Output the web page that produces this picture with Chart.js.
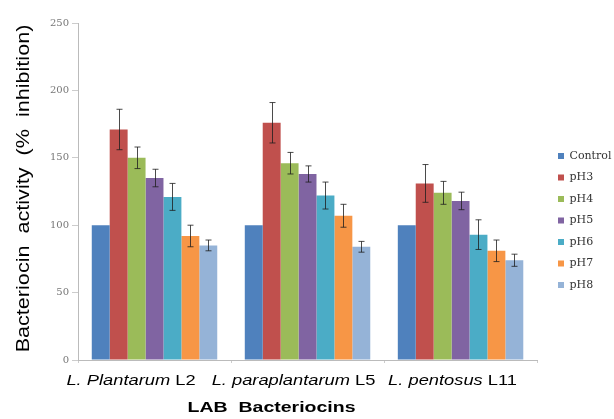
<!DOCTYPE html>
<html><head><meta charset="utf-8">
<script src="https://cdn.jsdelivr.net/npm/chart.js@4"></script>
<style>html,body{margin:0;padding:0;background:#fff}#wrap{width:614px;height:419px}</style>
</head><body><div id="wrap"><canvas id="c"></canvas></div>
<script>
const species = ['L. Plantarum', 'L. paraplantarum', 'L. pentosus'];
const strains = ['L2', 'L5', 'L11'];
const seriesNames = ['Control', 'pH3', 'pH4', 'pH5', 'pH6', 'pH7', 'pH8'];
const control = [100, 100, 100];
const pH3 = [171, 176, 131];
const pH4 = [150, 146, 124];
const pH5 = [135, 138, 118];
const pH6 = [121, 122, 93];
const pH7 = [92, 107, 81];
const pH8 = [85, 84, 74];
const errControl = [0, 0, 0];
const errPH3 = [15, 15, 14];
const errPH4 = [8, 8, 8.5];
const errPH5 = [6.5, 6, 6.5];
const errPH6 = [10, 10, 11];
const errPH7 = [8, 8.5, 8];
const errPH8 = [4, 4, 4.5];
const yTicks = [0, 50, 100, 150, 200, 250];
const yTitle = 'Bacteriocin  activity  (%  inhibition)';
const xTitle = 'LAB  Bacteriocins';

const values = [control, pH3, pH4, pH5, pH6, pH7, pH8];
const errors = [errControl, errPH3, errPH4, errPH5, errPH6, errPH7, errPH8];
const colors = ['#4F81BD', '#C0504D', '#9BBB59', '#8064A2', '#4BACC6', '#F79646', '#95B3D7'];

const errorBars = {
  id: 'errorBars',
  afterDatasetsDraw(chart) {
    const ctx = chart.ctx, y = chart.scales.y;
    ctx.save();
    ctx.strokeStyle = 'rgba(30,30,30,0.8)';
    ctx.lineWidth = 1;
    chart.data.datasets.forEach((ds, i) => {
      const meta = chart.getDatasetMeta(i);
      meta.data.forEach((bar, j) => {
        const e = errors[i][j];
        if (!e) return;
        const v = ds.data[j];
        const yt = y.getPixelForValue(v + e), yb = y.getPixelForValue(v - e);
        const x = Math.round(bar.x) + 0.5;
        ctx.beginPath();
        ctx.moveTo(x, yt); ctx.lineTo(x, yb);
        ctx.moveTo(x - 3, yt); ctx.lineTo(x + 3, yt);
        ctx.moveTo(x - 3, yb); ctx.lineTo(x + 3, yb);
        ctx.stroke();
      });
    });
    ctx.restore();
  }
};

const labelOffsets = [-23.5, -14, -8];
const SX = 1.22;
const axisText = {
  id: 'axisText',
  afterDraw(chart) {
    const ctx = chart.ctx, xs = chart.scales.x, area = chart.chartArea;
    ctx.save();
    ctx.fillStyle = '#000';
    ctx.textBaseline = 'middle';
    const it = 'italic 15px "Liberation Sans", Arial, sans-serif';
    const rg = '15px "Liberation Sans", Arial, sans-serif';
    species.forEach((sp, i) => {
      ctx.font = it; const w1 = ctx.measureText(sp + ' ').width;
      ctx.font = rg; const w2 = ctx.measureText(strains[i]).width;
      const cx = xs.getPixelForValue(i) + labelOffsets[i];
      ctx.save();
      ctx.translate(cx - (w1 + w2) * SX / 2, area.bottom + 21);
      ctx.scale(SX, 1);
      ctx.textAlign = 'left';
      ctx.font = it; ctx.fillText(sp + ' ', 0, 0);
      ctx.font = rg; ctx.fillText(strains[i], w1, 0);
      ctx.restore();
    });
    // x title
    ctx.save();
    ctx.font = 'bold 15px "Liberation Sans", Arial, sans-serif';
    ctx.textAlign = 'center';
    ctx.translate((area.left + area.right) / 2 - 36, area.bottom + 48);
    ctx.scale(1.3, 1);
    ctx.fillText(xTitle, 0, 0);
    ctx.restore();
    // y title
    ctx.save();
    ctx.font = '18px "Liberation Sans", Arial, sans-serif';
    ctx.textAlign = 'center';
    ctx.translate(24, (area.top + area.bottom) / 2 - 3);
    ctx.rotate(-Math.PI / 2);
    ctx.scale(1.2, 1);
    ctx.fillText(yTitle, 0, 0);
    ctx.restore();
    ctx.restore();
  }
};

const legendShift = {
  id: 'legendShift',
  afterLayout(chart) {
    const lg = chart.legend;
    const h = lg.bottom - lg.top, w = lg.right - lg.left;
    lg.top = 140; lg.bottom = lg.top + h;
    lg.left = 547.5; lg.right = lg.left + w;
  }
};

new Chart(document.getElementById('c'), {
  type: 'bar',
  data: {
    labels: species.map((s, i) => s + ' ' + strains[i]),
    datasets: seriesNames.map((n, i) => ({
      label: n, data: values[i], backgroundColor: colors[i],
      borderWidth: 0, barPercentage: 1.0, categoryPercentage: 0.82
    }))
  },
  options: {
    responsive: true, maintainAspectRatio: false, animation: false,
    layout: { padding: { left: 6, right: 3, top: 23, bottom: 0 } },
    plugins: {
      tooltip: { enabled: false },
      legend: {
        position: 'right', align: 'start',
        labels: {
          boxWidth: 6, boxHeight: 6, padding: 10.5, color: '#333',
          font: { family: '"DejaVu Serif", serif', size: 11 }
        }
      }
    },
    scales: {
      x: {
        grid: { drawOnChartArea: false, drawTicks: true, tickLength: 3, color: '#ccc', offset: true },
        border: { color: '#bbb' },
        ticks: { callback: () => '', padding: 0 },
        afterFit(s) { s.height = 59; }
      },
      y: {
        min: 0, max: 250,
        afterBuildTicks(s) { s.ticks = yTicks.map(v => ({ value: v })); },
        grid: { drawOnChartArea: false, drawTicks: true, tickLength: 6, color: '#ccc' },
        border: { color: '#bbb' },
        ticks: { color: '#777', padding: 3, font: { family: '"DejaVu Serif", serif', size: 10 } },
        title: { display: false, text: yTitle },
        afterFit(s) { s.width = 72; }
      }
    }
  },
  plugins: [errorBars, axisText, legendShift]
});
</script>
</body></html>
